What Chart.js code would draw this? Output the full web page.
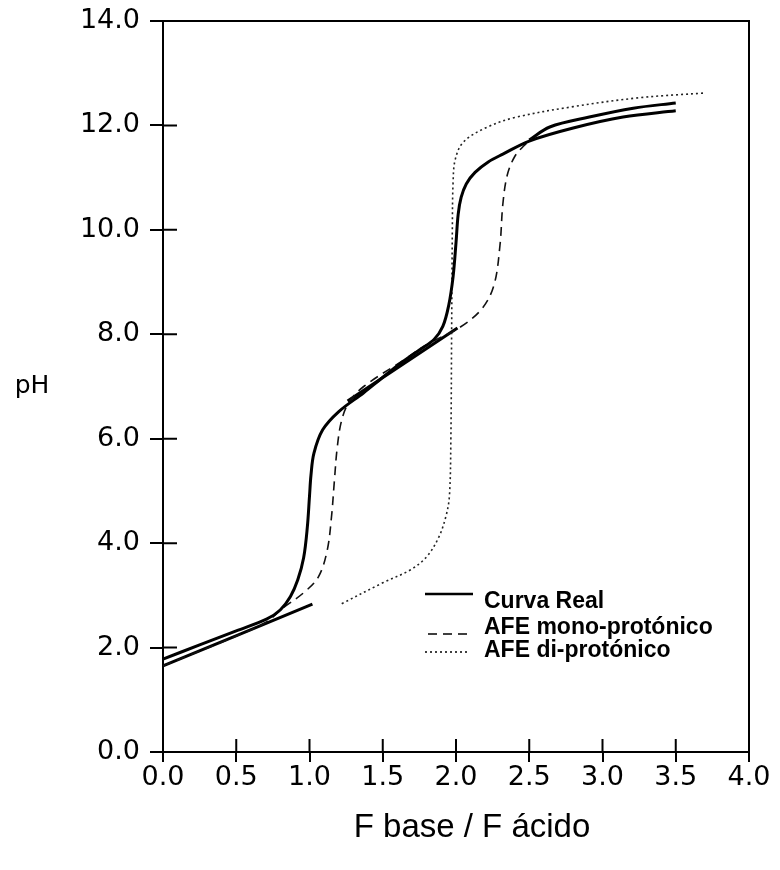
<!DOCTYPE html>
<html>
<head>
<meta charset="utf-8">
<script src="https://cdn.jsdelivr.net/npm/chart.js@4.4.0/dist/chart.umd.min.js"></script>
<style>
  html, body { margin: 0; padding: 0; background: #fff; }
  #wrap { width: 780px; height: 870px; }
</style>
</head>
<body>
<div id="wrap"><canvas id="grafico" width="780" height="870"></canvas></div>
<script>
// Curva Real (titulação)
const realX = [0, 0.25, 0.5, 0.71, 0.8, 0.87, 0.92, 0.96, 0.985, 1.0, 1.01, 1.03, 1.09, 1.2, 1.37, 1.48, 1.6, 1.75, 1.85, 1.91, 1.95, 1.98, 2.0, 2.015, 2.035, 2.07, 2.13, 2.22, 2.32, 2.5, 2.8, 3.14, 3.5];
const realY = [1.78, 2.05, 2.32, 2.55, 2.72, 2.98, 3.3, 3.72, 4.3, 4.9, 5.3, 5.72, 6.17, 6.52, 6.88, 7.13, 7.4, 7.7, 7.9, 8.15, 8.55, 9.1, 9.75, 10.3, 10.62, 10.88, 11.1, 11.3, 11.45, 11.7, 11.95, 12.16, 12.28];

// Segmentos retos / ramos extra da curva real
const seg1X = [0, 1.02];
const seg1Y = [1.65, 2.83];
const seg2X = [1.26, 2.01];
const seg2Y = [6.72, 8.12];
const seg3X = [2.5, 2.64, 2.91, 3.21, 3.5];
const seg3Y = [11.72, 11.97, 12.16, 12.33, 12.43];

// AFE mono-protónico
const monoX = [0, 0.5, 0.7, 0.82, 0.96, 1.06, 1.12, 1.15, 1.17, 1.19, 1.22, 1.27, 1.37, 1.64, 1.8, 2.03, 2.18, 2.26, 2.3, 2.32, 2.35, 2.4, 2.46, 2.52];
const monoY = [1.65, 2.22, 2.48, 2.76, 3.05, 3.35, 3.85, 4.5, 5.2, 5.85, 6.36, 6.7, 7.0, 7.5, 7.8, 8.14, 8.5, 8.95, 9.7, 10.5, 11.05, 11.4, 11.6, 11.75];

// AFE di-protónico
const diX = [1.22, 1.5, 1.69, 1.8, 1.88, 1.93, 1.955, 1.965, 1.97, 1.975, 1.98, 1.995, 2.05, 2.2, 2.4, 2.8, 3.25, 3.69];
const diY = [2.84, 3.24, 3.49, 3.74, 4.1, 4.5, 4.9, 6.0, 8.0, 10.0, 10.9, 11.35, 11.68, 11.95, 12.15, 12.36, 12.53, 12.62];

const xTicks = [0, 0.5, 1, 1.5, 2, 2.5, 3, 3.5, 4];
const yTicks = [0, 2, 4, 6, 8, 10, 12, 14];

function pontos(xs, ys) {
  return xs.map((x, i) => ({ x, y: ys[i] }));
}

const tickFont = { family: 'DejaVu Sans', size: 27 };

const estiloReal = { borderColor: '#000', borderWidth: 3, pointRadius: 0, fill: false, tension: 0.35 };

// Desenha a caixa, os traços internos, legenda e títulos
const extras = {
  id: 'extras',
  afterDraw(chart) {
    const ctx = chart.ctx;
    const a = chart.chartArea;
    const sx = chart.scales.x, sy = chart.scales.y;
    ctx.save();
    ctx.strokeStyle = '#000';
    ctx.lineWidth = 2;
    ctx.beginPath();
    ctx.moveTo(a.left, a.top); ctx.lineTo(a.right, a.top); ctx.lineTo(a.right, a.bottom);
    // traços para dentro
    xTicks.forEach(v => {
      const px = sx.getPixelForValue(v);
      ctx.moveTo(px, a.bottom); ctx.lineTo(px, a.bottom - 13);
    });
    yTicks.forEach(v => {
      const py = sy.getPixelForValue(v);
      ctx.moveTo(a.left, py); ctx.lineTo(a.left + 14, py);
    });
    ctx.stroke();

    // legenda
    const itens = [
      { ds: 0, y: 602, ly: 594, x0: 425, x1: 473 },
      { ds: 1, y: 628, ly: 634, x0: 428, x1: 472 },
      { ds: 2, y: 651, ly: 652, x0: 425, x1: 468 }
    ];
    ctx.font = 'bold 23px "Liberation Sans", Arial, sans-serif';
    ctx.textBaseline = 'middle';
    ctx.fillStyle = '#000';
    itens.forEach(it => {
      const d = chart.data.datasets[it.ds];
      ctx.beginPath();
      ctx.lineWidth = it.ds === 0 ? 2.5 : 1.5;
      ctx.setLineDash(d.borderDash || []);
      ctx.moveTo(it.x0, it.ly); ctx.lineTo(it.x1, it.ly);
      ctx.stroke();
      ctx.setLineDash([]);
      ctx.fillText(d.label, 484, it.y);
    });

    // títulos dos eixos
    ctx.font = '25px "DejaVu Sans", sans-serif';
    ctx.textAlign = 'center';
    ctx.fillText('pH', 32, 386);
    ctx.font = '33px "Liberation Sans", Arial, sans-serif';
    ctx.fillText('F base / F ácido', 472, 828);
    ctx.restore();
  }
};

new Chart(document.getElementById('grafico'), {
  type: 'line',
  data: {
    datasets: [
      Object.assign({ label: 'Curva Real', data: pontos(realX, realY) }, estiloReal),
      { label: 'AFE mono-protónico', data: pontos(monoX, monoY), borderColor: '#111', borderWidth: 1.6, borderDash: [9, 6], pointRadius: 0, fill: false, tension: 0.35 },
      { label: 'AFE di-protónico', data: pontos(diX, diY), borderColor: '#222', borderWidth: 1.6, borderDash: [2, 3], pointRadius: 0, fill: false, tension: 0.35 },
      Object.assign({ label: 'seg1', data: pontos(seg1X, seg1Y) }, estiloReal),
      Object.assign({ label: 'seg2', data: pontos(seg2X, seg2Y) }, estiloReal),
      Object.assign({ label: 'seg3', data: pontos(seg3X, seg3Y) }, estiloReal)
    ]
  },
  options: {
    responsive: false,
    animation: false,
    layout: { padding: { left: 0, top: 21, right: 31, bottom: 0 } },
    plugins: { legend: { display: false }, tooltip: { enabled: false } },
    scales: {
      x: {
        type: 'linear', min: 0, max: 4,
        afterFit: s => { s.height = 118; s.paddingLeft = 0; s.paddingRight = 0; },
        afterBuildTicks: s => { s.ticks = xTicks.map(v => ({ value: v })); },
        ticks: { color: '#000', font: tickFont, padding: 0, maxRotation: 0, callback: v => v.toFixed(1) },
        grid: { drawOnChartArea: false, tickLength: 10, color: '#000', lineWidth: 2 },
        border: { color: '#000', width: 2 }
      },
      y: {
        type: 'linear', min: 0, max: 14,
        afterFit: s => { s.width = 163; s.paddingTop = 0; s.paddingBottom = 0; },
        afterBuildTicks: s => { s.ticks = yTicks.map(v => ({ value: v })); },
        ticks: { color: '#000', font: tickFont, padding: 10, callback: v => v.toFixed(1) },
        grid: { drawOnChartArea: false, tickLength: 13, color: '#000', lineWidth: 2 },
        border: { color: '#000', width: 2 }
      }
    }
  },
  plugins: [extras]
});
</script>
</body>
</html>
